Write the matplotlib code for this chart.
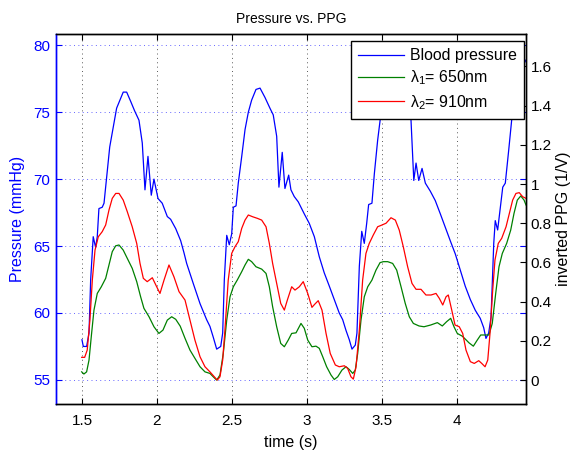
import matplotlib
matplotlib.use("Agg")
import matplotlib.pyplot as plt

plt.rcParams['font.family'] = ['Liberation Sans', 'DejaVu Sans']
plt.rcParams['mathtext.fontset'] = 'custom'
plt.rcParams['mathtext.rm'] = 'Liberation Sans'
plt.rcParams['mathtext.it'] = 'Liberation Sans'
plt.rcParams['font.size'] = 11

# blood pressure (mmHg) vs time (s)
t_bp = [1.50, 1.509, 1.531, 1.547, 1.558, 1.575, 1.591, 1.602, 1.613, 1.635, 1.647, 1.665,
        1.685, 1.709, 1.731, 1.753, 1.775, 1.798, 1.825, 1.851, 1.880, 1.902, 1.920, 1.940,
        1.962, 1.980, 2.007, 2.035, 2.069, 2.091, 2.125, 2.158, 2.180, 2.198, 2.242, 2.287,
        2.331, 2.353, 2.375, 2.398, 2.425, 2.438, 2.449, 2.465, 2.482, 2.498, 2.509, 2.527,
        2.542, 2.565, 2.587, 2.609, 2.631, 2.660, 2.687, 2.720, 2.753, 2.775, 2.798, 2.813,
        2.835, 2.853, 2.878, 2.893, 2.915, 2.942, 2.982, 3.015, 3.049, 3.082, 3.115, 3.149,
        3.182, 3.215, 3.238, 3.260, 3.282, 3.300, 3.322, 3.333, 3.349, 3.365, 3.382, 3.398,
        3.411, 3.433, 3.449, 3.471, 3.493, 3.515, 3.545, 3.575, 3.605, 3.640, 3.670, 3.693,
        3.712, 3.727, 3.745, 3.767, 3.789, 3.822, 3.855, 3.889, 3.922, 3.955, 3.989, 4.022,
        4.055, 4.089, 4.122, 4.155, 4.178, 4.193, 4.211, 4.227, 4.245, 4.255, 4.271, 4.289,
        4.305, 4.322, 4.345, 4.367, 4.389, 4.411, 4.445, 4.460]
bp = [58.0, 57.5, 57.5, 58.5, 62.5, 65.7, 64.9, 65.7, 67.8, 67.9, 68.2, 70.2,
      72.4, 73.9, 75.3, 75.9, 76.5, 76.5, 75.8, 75.1, 74.4, 72.7, 69.2, 71.7,
      68.8, 70.0, 68.55, 68.2, 67.2, 67.0, 66.3, 65.4, 64.5, 63.7, 62.2, 60.7,
      59.5, 59.0, 58.2, 57.3, 57.5, 58.5, 62.5, 65.8, 65.1, 65.9, 67.9, 68.0,
      69.7, 71.7, 73.7, 75.0, 75.9, 76.7, 76.8, 76.1, 75.3, 74.8, 73.2, 69.4,
      72.0, 69.3, 70.3, 69.2, 68.7, 68.3, 67.4, 66.7, 65.7, 64.2, 63.0, 62.0,
      61.0, 60.0, 59.5, 58.7, 58.0, 57.3, 57.6, 58.5, 63.5, 66.1, 65.2, 66.7,
      68.1, 68.2, 70.4, 72.9, 74.9, 75.9, 76.6, 76.8, 76.4, 75.6, 74.9, 74.5,
      69.9, 71.2, 69.9, 70.8, 69.7, 69.1, 68.4, 67.4, 66.4, 65.4, 64.4, 63.2,
      62.0, 61.0, 60.2, 59.6, 58.9, 58.1, 58.5, 59.7, 65.2, 66.9, 66.2, 67.9,
      69.4, 69.7, 72.2, 74.7, 76.4, 77.6, 78.6, 78.9]

# inverted PPG, 910 nm (red)
t_red = [1.498, 1.518, 1.535, 1.553, 1.569, 1.587, 1.609, 1.635, 1.658, 1.680, 1.702, 1.725,
         1.747, 1.775, 1.802, 1.835, 1.865, 1.887, 1.909, 1.935, 1.969, 1.998, 2.020, 2.047,
         2.080, 2.113, 2.147, 2.187, 2.220, 2.253, 2.287, 2.320, 2.353, 2.382, 2.402, 2.420,
         2.438, 2.453, 2.475, 2.498, 2.520, 2.542, 2.565, 2.587, 2.609, 2.638, 2.669, 2.698,
         2.727, 2.749, 2.771, 2.798, 2.825, 2.849, 2.869, 2.898, 2.920, 2.949, 2.975, 3.005,
         3.033, 3.053, 3.075, 3.100, 3.127, 3.155, 3.189, 3.215, 3.249, 3.271, 3.293, 3.309,
         3.327, 3.349, 3.371, 3.393, 3.415, 3.442, 3.471, 3.500, 3.527, 3.560, 3.589, 3.615,
         3.642, 3.671, 3.700, 3.727, 3.760, 3.793, 3.827, 3.860, 3.882, 3.905, 3.927, 3.942,
         3.965, 3.987, 4.015, 4.038, 4.060, 4.089, 4.115, 4.145, 4.165, 4.187, 4.205, 4.220,
         4.238, 4.253, 4.275, 4.298, 4.327, 4.349, 4.371, 4.393, 4.415, 4.438, 4.460]
ppg_red = [0.116, 0.116, 0.153, 0.306, 0.51, 0.663, 0.731, 0.757, 0.791, 0.867, 0.927, 0.952,
           0.952, 0.918, 0.859, 0.782, 0.697, 0.595, 0.519, 0.502, 0.522, 0.476, 0.442, 0.51,
           0.587, 0.527, 0.451, 0.408, 0.306, 0.204, 0.119, 0.068, 0.042, 0.017, 0.0, 0.017,
           0.102, 0.255, 0.51, 0.646, 0.68, 0.706, 0.774, 0.816, 0.842, 0.833, 0.825, 0.816,
           0.782, 0.697, 0.595, 0.493, 0.391, 0.357, 0.408, 0.476, 0.459, 0.476, 0.502, 0.442,
           0.371, 0.388, 0.405, 0.357, 0.238, 0.136, 0.077, 0.068, 0.073, 0.060, 0.017, 0.005,
           0.068, 0.255, 0.51, 0.646, 0.697, 0.74, 0.782, 0.791, 0.80, 0.828, 0.816, 0.765,
           0.680, 0.578, 0.493, 0.463, 0.463, 0.434, 0.434, 0.442, 0.417, 0.383, 0.425, 0.434,
           0.357, 0.281, 0.272, 0.238, 0.153, 0.094, 0.085, 0.099, 0.085, 0.068, 0.102, 0.238,
           0.459, 0.612, 0.697, 0.723, 0.782, 0.850, 0.918, 0.952, 0.956, 0.935, 0.927]

# inverted PPG, 650 nm (green)
t_green = [1.498, 1.513, 1.531, 1.547, 1.562, 1.580, 1.602, 1.629, 1.658, 1.680, 1.702, 1.725,
           1.747, 1.775, 1.802, 1.835, 1.865, 1.891, 1.913, 1.947, 1.980, 2.013, 2.040, 2.069,
           2.098, 2.125, 2.155, 2.187, 2.220, 2.253, 2.287, 2.320, 2.353, 2.375, 2.398, 2.420,
           2.442, 2.465, 2.487, 2.509, 2.535, 2.565, 2.587, 2.609, 2.631, 2.660, 2.698, 2.727,
           2.749, 2.771, 2.798, 2.825, 2.849, 2.875, 2.898, 2.927, 2.960, 2.982, 3.005, 3.033,
           3.060, 3.082, 3.105, 3.131, 3.160, 3.182, 3.205, 3.233, 3.260, 3.282, 3.305, 3.322,
           3.338, 3.360, 3.382, 3.405, 3.433, 3.460, 3.487, 3.509, 3.538, 3.571, 3.598, 3.627,
           3.655, 3.682, 3.709, 3.747, 3.780, 3.825, 3.869, 3.902, 3.931, 3.958, 3.980, 4.002,
           4.035, 4.058, 4.080, 4.109, 4.135, 4.158, 4.185, 4.213, 4.235, 4.258, 4.280, 4.302,
           4.331, 4.358, 4.380, 4.402, 4.425, 4.447, 4.460]
ppg_green = [0.042, 0.031, 0.042, 0.102, 0.221, 0.357, 0.442, 0.476, 0.519, 0.587, 0.655, 0.685,
             0.689, 0.663, 0.621, 0.570, 0.502, 0.425, 0.366, 0.323, 0.272, 0.238, 0.255, 0.306,
             0.323, 0.310, 0.275, 0.213, 0.153, 0.111, 0.068, 0.042, 0.034, 0.017, 0.0, 0.026,
             0.136, 0.306, 0.425, 0.476, 0.510, 0.553, 0.587, 0.616, 0.604, 0.578, 0.566, 0.544,
             0.476, 0.374, 0.272, 0.187, 0.170, 0.204, 0.238, 0.241, 0.289, 0.264, 0.204, 0.170,
             0.173, 0.162, 0.119, 0.068, 0.026, 0.003, 0.017, 0.051, 0.068, 0.054, 0.034, 0.051,
             0.136, 0.306, 0.425, 0.476, 0.510, 0.561, 0.599, 0.604, 0.604, 0.595, 0.561, 0.476,
             0.391, 0.323, 0.289, 0.276, 0.272, 0.281, 0.293, 0.276, 0.298, 0.315, 0.272, 0.238,
             0.224, 0.207, 0.190, 0.173, 0.204, 0.230, 0.230, 0.230, 0.289, 0.442, 0.578, 0.646,
             0.697, 0.765, 0.850, 0.918, 0.939, 0.918, 0.893]

x_ticks = [1.5, 2, 2.5, 3, 3.5, 4]
x_labels = ['1.5', '2', '2.5', '3', '3.5', '4']
p_ticks = [55, 60, 65, 70, 75, 80]
ppg_ticks = [0, 0.2, 0.4, 0.6, 0.8, 1.0, 1.2, 1.4, 1.6]
ppg_labels = ['0', '0.2', '0.4', '0.6', '0.8', '1', '1.2', '1.4', '1.6']

fig = plt.figure(figsize=(5.71, 4.5), dpi=100)
ax1 = fig.add_axes([0.0981, 0.1022, 0.8231, 0.8222])
ax2 = ax1.twinx()

blue = (0, 0, 1)
green = (0, 0.5, 0)
red = (1, 0, 0)

l_bp, = ax1.plot(t_bp, bp, color=blue, lw=0.9, solid_joinstyle='round')
l_g, = ax2.plot(t_green, ppg_green, color=green, lw=0.9, solid_joinstyle='round')
l_r, = ax2.plot(t_red, ppg_red, color=red, lw=0.9, solid_joinstyle='round')

ax1.set_xlim(1.327, 4.46)
ax1.set_ylim(53.2, 80.84)
ax2.set_ylim(-0.122, 1.765)

ax1.set_xticks(x_ticks)
ax1.set_xticklabels(x_labels)
ax1.set_yticks(p_ticks)
ax2.set_yticks(ppg_ticks)
ax2.set_yticklabels(ppg_labels)

# grid: x dark dotted, y blue dotted
ax1.xaxis.grid(True, color=(0.35, 0.35, 0.35), linestyle=(0, (1, 3.5)), lw=0.7)
ax1.yaxis.grid(True, color=(0.4, 0.4, 1.0), linestyle=(0, (1, 3.5)), lw=0.7)
ax1.set_axisbelow(True)

ax1.tick_params(axis='x', direction='in', length=4, top=True, pad=7, colors='black', labelsize=11)
ax1.tick_params(axis='y', direction='in', length=4, right=True, pad=4, colors=blue, labelsize=11)
ax2.tick_params(axis='y', direction='in', length=4, pad=3.5, colors='black', labelsize=11)

for sp in ['top', 'bottom', 'right']:
    ax1.spines[sp].set_color('black')
ax1.spines['left'].set_color(blue)
ax2.spines['left'].set_color(blue)
ax2.spines['right'].set_color('black')
for ax in (ax1, ax2):
    for sp in ax.spines.values():
        sp.set_linewidth(1.0)

ax1.set_title('Pressure vs. PPG', fontsize=10, pad=8)
ax1.set_xlabel('time (s)', fontsize=11.5, labelpad=5)
ax1.set_ylabel('Pressure (mmHg)', fontsize=11.5, color=blue, labelpad=6)
ax2.set_ylabel('inverted PPG (1/V)', fontsize=11.5, color='black', labelpad=3)

leg = ax2.legend([l_bp, l_g, l_r],
                 ['Blood pressure', 'λ$_1$= 650nm', 'λ$_2$= 910nm'],
                 loc='upper right', bbox_to_anchor=(0.9957, 0.981), borderaxespad=0,
                 fancybox=False, framealpha=1, edgecolor='black', fontsize=11.4,
                 handlelength=2.9, handletextpad=0.38, labelspacing=0.35, borderpad=0.45)
leg.get_frame().set_linewidth(1.0)

fig.savefig('out.png', dpi=100)
